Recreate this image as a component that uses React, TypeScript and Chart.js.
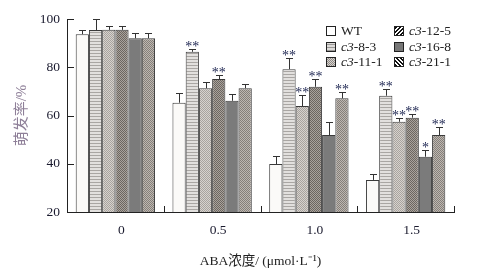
import React, { useEffect, useRef } from 'react';
import { Chart, registerables } from 'chart.js';

Chart.register(...registerables);

// ---- data ----
const categories = ['0', '0.5', '1.0', '1.5'];
const seriesNames = ['WT', 'c3-8-3', 'c3-11-1', 'c3-12-5', 'c3-16-8', 'c3-21-1'];

const valWT = [93.7, 65.3, 39.9, 33.3];
const val8_3 = [95.4, 86.4, 79.2, 68.2];
const val11_1 = [95.5, 71.3, 63.9, 57.4];
const val12_5 = [95.5, 75.1, 71.9, 59.1];
const val16_8 = [92.0, 66.1, 51.9, 42.9];
const val21_1 = [92.0, 71.3, 67.1, 51.9];

const errWT = [1.7, 3.9, 3.4, 2.5];
const err8_3 = [4.5, 1.0, 4.5, 2.8];
const err11_1 = [1.5, 2.7, 4.6, 1.4];
const err12_5 = [1.5, 1.7, 3.1, 1.4];
const err16_8 = [2.3, 2.8, 5.5, 2.8];
const err21_1 = [2.3, 1.6, 2.8, 3.2];

const starWT = ['', '', '', ''];
const star8_3 = ['', '**', '**', '**'];
const star11_1 = ['', '', '**', '**'];
const star12_5 = ['', '**', '**', '**'];
const star16_8 = ['', '', '', '*'];
const star21_1 = ['', '', '**', '**'];

const yTickValues = [20, 40, 60, 80, 100];

const allValues = [valWT, val8_3, val11_1, val12_5, val16_8, val21_1];
const allErrors = [errWT, err8_3, err11_1, err12_5, err16_8, err21_1];
const allStars = [starWT, star8_3, star11_1, star12_5, star16_8, star21_1];

const FONT = '"Liberation Serif", "Noto Sans CJK SC", serif';

function makePattern(w: number, h: number, draw: (g: CanvasRenderingContext2D) => void): CanvasPattern | string {
  const c = document.createElement('canvas');
  c.width = w;
  c.height = h;
  const g = c.getContext('2d');
  if (!g) return '#aaa';
  draw(g);
  return g.createPattern(c, 'repeat') || '#aaa';
}

function checker(a: string, b: string) {
  return makePattern(2, 2, (g) => {
    g.fillStyle = a;
    g.fillRect(0, 0, 2, 2);
    g.fillStyle = b;
    g.fillRect(0, 0, 1, 1);
    g.fillRect(1, 1, 1, 1);
  });
}

const extrasPlugin = {
  id: 'extras',
  afterDatasetsDraw(chart: any) {
    const ctx = chart.ctx;
    const yScale = chart.scales.y;
    ctx.save();
    chart.data.datasets.forEach((ds: any, i: number) => {
      const meta = chart.getDatasetMeta(i);
      meta.data.forEach((el: any, j: number) => {
        const v = allValues[i][j];
        const e = allErrors[i][j];
        const yTop = yScale.getPixelForValue(v);
        const yErr = yScale.getPixelForValue(v + e);
        const x = Math.round(el.x) + 0.5;
        ctx.strokeStyle = '#333';
        ctx.lineWidth = 1;
        ctx.beginPath();
        ctx.moveTo(x, yTop);
        ctx.lineTo(x, Math.round(yErr) + 0.5);
        ctx.moveTo(x - 3.5, Math.round(yErr) + 0.5);
        ctx.lineTo(x + 3.5, Math.round(yErr) + 0.5);
        ctx.stroke();
        const s = allStars[i][j];
        if (s) {
          ctx.fillStyle = '#1c2450';
          ctx.font = '14px ' + FONT;
          ctx.textAlign = 'center';
          ctx.textBaseline = 'alphabetic';
          ctx.fillText(s, el.x, yErr + 2);
        }
      });
    });
    ctx.restore();
  },
  afterDraw(chart: any) {
    const ctx = chart.ctx;
    const x = chart.scales.x;
    const y = chart.scales.y;
    const area = chart.chartArea;
    ctx.save();
    ctx.strokeStyle = '#222';
    ctx.lineWidth = 1;
    ctx.beginPath();
    yTickValues.forEach((v) => {
      if (v === y.min) return;
      const py = Math.round(y.getPixelForValue(v)) + 0.5;
      ctx.moveTo(area.left, py);
      ctx.lineTo(area.left + 7, py);
    });
    categories.forEach((_, i) => {
      const px = Math.round(x.getPixelForValue(i + 0.5)) + 0.5;
      ctx.moveTo(px, area.bottom);
      ctx.lineTo(px, area.bottom - 6);
    });
    ctx.stroke();
    ctx.restore();
  },
};

const legendBoxes: Record<string, React.CSSProperties> = {
  'WT': { background: '#fff' },
  'c3-8-3': { background: 'repeating-linear-gradient(0deg, #9a9896 0 1px, #dddbd9 1px 3px)' },
  'c3-11-1': { background: 'repeating-conic-gradient(#8f8a86 0 25%, #d6d2ce 0 50%) 0 0/2px 2px' },
  'c3-12-5': { background: 'repeating-linear-gradient(135deg, #111 0 1.5px, #fff 1.5px 3px)' },
  'c3-16-8': { background: '#777' },
  'c3-21-1': { background: 'repeating-linear-gradient(45deg, #111 0 1.5px, #fff 1.5px 3px)' },
};

function nameLabel(n: string) {
  if (n.startsWith('c3')) {
    return (
      <>
        <i>c3</i>
        {n.slice(2)}
      </>
    );
  }
  return n;
}

export default function App() {
  const ref = useRef<HTMLCanvasElement>(null);

  useEffect(() => {
    const canvas = ref.current;
    if (!canvas) return;
    const fills = [
      '#fbfaf8',
      makePattern(1, 3, (g) => {
        g.fillStyle = '#e2e0de';
        g.fillRect(0, 0, 1, 3);
        g.fillStyle = '#a9a6a3';
        g.fillRect(0, 2, 1, 1);
      }),
      checker('#d6d2ce', '#a8a39e'),
      checker('#a9a39d', '#6c6660'),
      '#7b7b7b',
      checker('#bdb7b1', '#857f79'),
    ];
    const chart = new Chart(canvas, {
      type: 'bar',
      data: {
        labels: categories,
        datasets: seriesNames.map((n, i) => ({
          label: n,
          data: allValues[i],
          backgroundColor: fills[i] as any,
          borderColor: '#3a3a3a',
          borderWidth: 1,
          barPercentage: 1,
          categoryPercentage: 0.82,
        })),
      },
      options: {
        responsive: false,
        animation: false,
        layout: { padding: { top: 19, right: 29, left: 0, bottom: 0 } },
        plugins: { legend: { display: false }, tooltip: { enabled: false } },
        scales: {
          x: {
            offset: true,
            grid: { display: false, drawTicks: false },
            border: { display: true, color: '#222', width: 1 },
            ticks: {
              color: '#1a1a2e',
              font: { family: FONT, size: 13.5 },
              padding: 10,
              labelOffset: 6,
            },
            title: {
              display: true,
              text: 'ABA浓度/ (μmol·L⁻¹)',
              color: '#222',
              font: { family: FONT, size: 13.5 },
              padding: { top: 0, bottom: 7 },
            },
            afterFit: (s: any) => {
              s.height = 65;
            },
          },
          y: {
            min: 20,
            max: 100,
            grid: { display: false, drawTicks: false },
            border: { display: true, color: '#222', width: 1 },
            afterBuildTicks: (s: any) => {
              s.ticks = yTickValues.map((v) => ({ value: v }));
            },
            ticks: {
              color: '#1a1a2e',
              font: { family: FONT, size: 13.5 },
              padding: 7,
            },
            title: {
              display: true,
              text: '萌发率/%',
              color: '#8e7f98',
              font: { family: FONT, size: 15 },
              padding: { top: 13, bottom: 0 },
            },
            afterFit: (s: any) => {
              s.width = 67;
            },
          },
        },
      },
      plugins: [extrasPlugin],
    });
    return () => chart.destroy();
  }, []);

  const cols = [326, 394];
  const rows = [24, 40, 55];

  return (
    <div style={{ position: 'absolute', left: 0, top: 0, width: 483, height: 277, background: '#fff' }}>
      <canvas ref={ref} width={483} height={277} style={{ display: 'block' }} />
      {seriesNames.map((n, i) => {
        const col = Math.floor(i / 3);
        const row = i % 3;
        return (
          <div
            key={n}
            style={{
              position: 'absolute',
              left: cols[col],
              top: rows[row],
              height: 14,
              display: 'flex',
              alignItems: 'center',
              fontFamily: FONT,
              fontSize: 13.5,
              color: '#222',
              whiteSpace: 'nowrap',
              lineHeight: '14px',
            }}
          >
            <span
              style={{
                display: 'inline-block',
                width: 8,
                height: 8,
                border: '1px solid #222',
                marginRight: 5,
                ...legendBoxes[n],
              }}
            />
            <span>{nameLabel(n)}</span>
          </div>
        );
      })}
    </div>
  );
}
